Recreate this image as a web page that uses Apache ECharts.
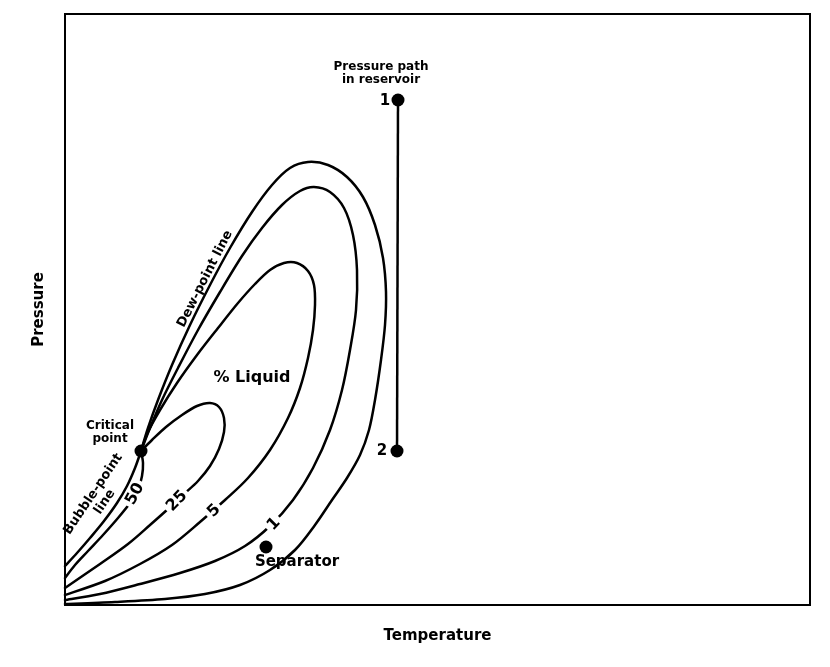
<!DOCTYPE html>
<html>
<head>
<meta charset="utf-8">
<script src="https://cdn.jsdelivr.net/npm/echarts@6/dist/echarts.min.js"></script>
<style>
html,body{margin:0;padding:0;background:#fff;}
#chart{width:830px;height:667px;}
</style>
</head>
<body>
<div id="chart"></div>
<script>
// Arbitrary units: temperature (x) and pressure (y)
const bubblePointLine = [[76,154],[70,137],[62,119],[52,102],[39,84],[25,67],[12,52],[0,39]];
const liquid50 = [[76,154],[78,142],[77,129],[73,115],[65,102],[53,87],[38,70],[23,54],[10,40],[0,27]];
const liquid25 = [[76,154],[87,165],[101,178],[117,190],[132,199],[145,202],[154,198],[159,187],[159,173],[154,156],[145,139],[133,124],[119,111],[103,96],[85,80],[63,61],[35,41],[0,17]];
const liquid5 = [[76,154],[83,173],[95,195],[112,222],[132,250],[153,277],[173,302],[190,321],[205,335],[219,342],[232,342],[243,334],[249,320],[250,300],[248,275],[243,247],[235,217],[223,187],[205,155],[183,127],[160,105],[135,83],[107,60],[75,41],[40,24],[0,10]];
const liquid1 = [[76,154],[85,177],[97,205],[113,237],[133,275],[155,313],[177,349],[197,377],[217,400],[235,414],[249,418],[265,413],[279,397],[288,370],[292,335],[291,295],[285,255],[277,215],[265,175],[248,137],[228,105],[205,79],[180,59],[150,44],[115,32],[75,21],[35,11],[0,5]];
const dewPointLine = [[76,154],[83,177],[93,205],[107,240],[125,280],[145,320],[165,357],[187,393],[207,420],[225,437],[243,443],[263,440],[282,428],[298,408],[310,380],[318,347],[321,313],[320,280],[316,245],[310,205],[304,175],[295,150],[282,127],[267,105],[250,80],[230,55],[205,35],[175,20],[140,11],[100,6],[50,3],[0,1]];
const pressurePath = [[333,505],[332,154]];
const markerPoints = [[76,154],[201,58],[333,505],[332,154]];
const curveNumbers = [
  {text:'50', at:[70,111], angle:62},
  {text:'25', at:[112,104], angle:46},
  {text:'5',  at:[149,94],  angle:44},
  {text:'1',  at:[209,81],  angle:46}
];
const annotations = [
  {text:'Critical\npoint', at:[45,173], angle:0, kind:'small'},
  {text:'Bubble-point\nline', at:[34,107], angle:56, kind:'mid'},
  {text:'Dew-point line', at:[140,326], angle:63, kind:'mid'},
  {text:'% Liquid', at:[187,227], angle:0, kind:'large'},
  {text:'Separator', at:[232,43], angle:0, kind:'big'},
  {text:'Pressure path\nin reservoir', at:[316,532], angle:0, kind:'small'},
  {text:'1', at:[320,504], angle:0, kind:'big'},
  {text:'2', at:[317,154], angle:0, kind:'big'}
];
const axisNames = {x:'Temperature', y:'Pressure'};

const FONT = 'DejaVu Sans';
const sizes = {small:12, mid:13, big:15, large:16};

// Smooth curve through the data points (Catmull-Rom -> cubic Bezier), positioned via the axes
function curve(data){
  return {type:'custom', coordinateSystem:'cartesian2d', data:data, silent:true, z:2,
    encode:{x:0, y:1},
    renderItem:function(params, api){
      if(params.dataIndex !== 0) return null;
      const p = data.map(function(v){ return api.coord(v); });
      let d = 'M' + p[0][0] + ' ' + p[0][1];
      for(let i=0;i<p.length-1;i++){
        const p0 = p[i-1] || p[i], p1 = p[i], p2 = p[i+1], p3 = p[i+2] || p[i+1];
        const c1x = p1[0] + (p2[0]-p0[0])/6, c1y = p1[1] + (p2[1]-p0[1])/6;
        const c2x = p2[0] - (p3[0]-p1[0])/6, c2y = p2[1] - (p3[1]-p1[1])/6;
        d += ' C' + c1x + ' ' + c1y + ' ' + c2x + ' ' + c2y + ' ' + p2[0] + ' ' + p2[1];
      }
      return {type:'path', shape:{pathData:d},
        style:{fill:'none', stroke:'#000', lineWidth:2.5, lineJoin:'round', lineCap:'round'}};
    }};
}

const chart = echarts.init(document.getElementById('chart'), null, {renderer:'canvas'});
chart.setOption({
  animation:false,
  backgroundColor:'#fff',
  grid:{left:65, right:20, top:14, bottom:62, show:true, borderColor:'#000', borderWidth:2},
  xAxis:{type:'value', min:0, max:745, name:axisNames.x, nameLocation:'middle', nameGap:24,
    nameTextStyle:{fontFamily:FONT, fontWeight:'bold', fontSize:15, color:'#000'},
    axisLine:{show:true, lineStyle:{color:'#000', width:2}}, axisTick:{show:false},
    axisLabel:{show:false}, splitLine:{show:false}},
  yAxis:{type:'value', min:0, max:591, name:axisNames.y, nameLocation:'middle', nameGap:18,
    nameTextStyle:{fontFamily:FONT, fontWeight:'bold', fontSize:15, color:'#000'},
    axisLine:{show:true, lineStyle:{color:'#000', width:2}}, axisTick:{show:false},
    axisLabel:{show:false}, splitLine:{show:false}},
  series:[
    curve(bubblePointLine), curve(liquid50), curve(liquid25), curve(liquid5), curve(liquid1), curve(dewPointLine),
    {type:'line', data:pressurePath, showSymbol:false, symbol:'none', lineStyle:{color:'#000', width:2.5}, z:2, silent:true},
    {type:'scatter', data:markerPoints, symbol:'circle', symbolSize:13, itemStyle:{color:'#000', opacity:1}, z:5, silent:true},
    {type:'scatter', z:6, silent:true, symbolSize:1, itemStyle:{color:'rgba(0,0,0,0)', opacity:1},
      data:curveNumbers.map(c=>({value:c.at, label:{show:true, position:'inside', formatter:c.text, rotate:c.angle,
        fontFamily:FONT, fontWeight:'bold', fontSize:16, color:'#000', backgroundColor:'#fff', padding:[0,3]}}))},
    {type:'scatter', z:6, silent:true, symbolSize:1, itemStyle:{color:'rgba(0,0,0,0)', opacity:1},
      data:annotations.map(a=>({value:a.at, label:{show:true, position:'inside', formatter:a.text, rotate:a.angle,
        fontFamily:FONT, fontWeight:'bold', fontSize:sizes[a.kind], color:'#000', align:'center', verticalAlign:'middle',
        lineHeight:Math.round(sizes[a.kind]*1.1)}}))}
  ]
});
</script>
</body>
</html>
